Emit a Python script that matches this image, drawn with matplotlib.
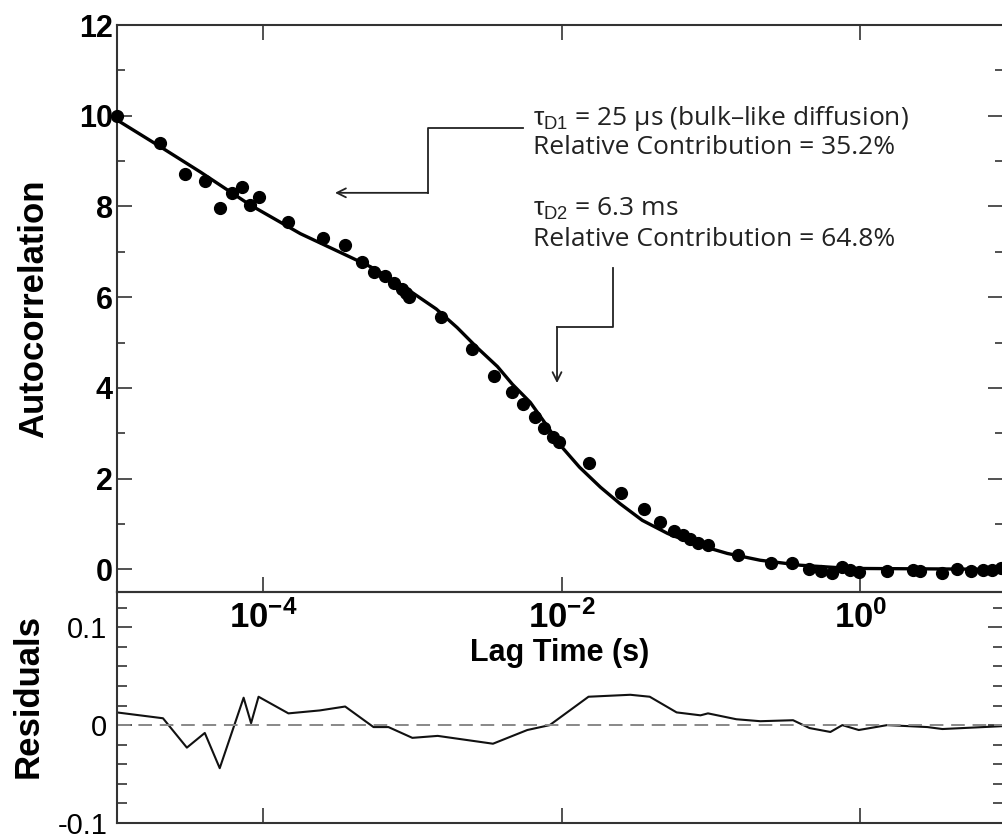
import numpy as np
import matplotlib
matplotlib.use('Agg')
import matplotlib.pyplot as plt
from matplotlib.ticker import MultipleLocator, NullLocator

plt.rcParams['font.family'] = ['Liberation Sans', 'DejaVu Sans']
plt.rcParams['mathtext.fontset'] = 'custom'
plt.rcParams['mathtext.rm'] = 'Liberation Sans'
plt.rcParams['mathtext.bf'] = 'Liberation Sans:bold'
plt.rcParams['mathtext.it'] = 'Liberation Sans:italic'

# measured autocorrelation (log10 of lag time in s, G)
pts_logt = [-4.98, -4.69, -4.52, -4.39, -4.29, -4.21, -4.14, -4.09, -4.03, -3.83,
            -3.60, -3.45, -3.34, -3.26, -3.18, -3.12, -3.07, -3.04, -3.02, -2.81,
            -2.60, -2.45, -2.33, -2.26, -2.18, -2.12, -2.06, -2.02, -1.82, -1.60,
            -1.45, -1.34, -1.25, -1.19, -1.14, -1.09, -1.02, -0.82, -0.60, -0.46,
            -0.34, -0.26, -0.19, -0.12, -0.07, -0.01, 0.18, 0.35, 0.40, 0.55,
            0.65, 0.74, 0.82, 0.88, 0.94]
pts_g = [10.0, 9.40, 8.72, 8.57, 7.97, 8.30, 8.43, 8.04, 8.21, 7.66,
         7.31, 7.15, 6.78, 6.56, 6.47, 6.31, 6.18, 6.09, 6.00, 5.56,
         4.85, 4.26, 3.91, 3.64, 3.36, 3.11, 2.91, 2.80, 2.34, 1.68,
         1.32, 1.04, 0.84, 0.75, 0.66, 0.57, 0.53, 0.31, 0.15, 0.13,
         0.00, -0.04, -0.08, 0.05, -0.02, -0.06, -0.04, -0.02, -0.04, -0.08,
         0.00, -0.04, -0.02, -0.02, 0.02]

# two-component fit
fit_logt = [-4.98, -4.69, -4.42, -4.09, -3.75, -3.42, -3.28, -3.15, -3.00, -2.84,
            -2.70, -2.57, -2.43, -2.33, -2.21, -2.11, -2.01, -1.88, -1.74, -1.61,
            -1.46, -1.29, -1.12, -0.89, -0.67, -0.40, -0.07, 0.96]
fit_g = [9.91, 9.32, 8.76, 8.04, 7.40, 6.89, 6.67, 6.42, 6.10, 5.74,
         5.33, 4.90, 4.47, 4.08, 3.68, 3.22, 2.74, 2.25, 1.81, 1.45,
         1.08, 0.79, 0.57, 0.35, 0.20, 0.09, 0.02, 0.0]

# residuals
res_logt = [-4.98, -4.67, -4.51, -4.39, -4.29, -4.13, -4.08, -4.03, -3.83, -3.62,
            -3.45, -3.26, -3.16, -3.00, -2.83, -2.46, -2.23, -2.08, -1.82, -1.54,
            -1.41, -1.23, -1.07, -1.02, -0.83, -0.67, -0.45, -0.34, -0.20, -0.12,
            -0.01, 0.18, 0.45, 0.55, 0.96]
res_val = [0.013, 0.007, -0.023, -0.008, -0.044, 0.028, 0.002, 0.029, 0.012, 0.015,
           0.019, -0.002, -0.002, -0.013, -0.011, -0.019, -0.005, 0.0, 0.029, 0.031,
           0.029, 0.013, 0.010, 0.012, 0.006, 0.004, 0.005, -0.003, -0.007, 0.0,
           -0.005, 0.0, -0.002, -0.004, -0.001]

xtick_vals = [1e-4, 1e-2, 1e0]
xtick_labels = [r'$\mathbf{10^{-4}}$', r'$\mathbf{10^{-2}}$', r'$\mathbf{10^{0}}$']

W, H = 1002, 838
fig = plt.figure(figsize=(W / 100, H / 100), dpi=100)
L, R = 117, 1003
ax_res = fig.add_axes([L / W, 1 - 823 / H, (R - L) / W, 231 / H])
ax = fig.add_axes([L / W, 1 - 592 / H, (R - L) / W, 567 / H])

xlim = (10 ** -4.978, 10 ** 0.956)
spine_c = '#333333'

# residual panel
ax_res.plot(10 ** np.array(res_logt), res_val, color='#111111', lw=1.5)
ax_res.axhline(0, color='#888888', lw=1.4, ls=(0, (7, 4)))
ax_res.set_xscale('log')
ax_res.set_xlim(*xlim)
ax_res.set_ylim(-0.1, 0.136)
ax_res.set_xticks(xtick_vals)
ax_res.set_xticklabels([])
ax_res.xaxis.set_minor_locator(NullLocator())
ax_res.set_yticks([-0.1, 0, 0.1])
ax_res.set_yticklabels(['-0.1', '0', '0.1'], fontsize=21)
ax_res.yaxis.set_minor_locator(MultipleLocator(0.02))
ax_res.tick_params(axis='x', which='major', direction='in', length=11, width=1.2,
                   top=False, bottom=True, color=spine_c)
ax_res.tick_params(axis='y', which='both', direction='in', left=True, right=True,
                   color=spine_c, width=1.2, pad=7)
ax_res.tick_params(axis='y', which='major', length=11)
ax_res.tick_params(axis='y', which='minor', length=7)
ax_res.set_ylabel('Residuals', fontsize=25, fontweight='bold')
ax_res.yaxis.set_label_coords(-0.082, 0.55)

# autocorrelation panel
ax.plot(10 ** np.array(fit_logt), fit_g, color='black', lw=2.4, zorder=2)
ax.plot(10 ** np.array(pts_logt), pts_g, 'o', color='black', ms=8.5, zorder=3,
        clip_on=False)
ax.set_xscale('log')
ax.set_xlim(*xlim)
ax.set_ylim(-0.5, 12)
ax.set_xticks(xtick_vals)
ax.set_xticklabels(xtick_labels, fontsize=25)
ax.xaxis.set_minor_locator(NullLocator())
ax.set_yticks(range(0, 13, 2))
ax.set_yticklabels([str(v) for v in range(0, 13, 2)], fontsize=22, fontweight='bold')
ax.yaxis.set_minor_locator(MultipleLocator(1))
ax.tick_params(axis='x', which='major', direction='in', length=11, width=1.2,
               top=True, bottom=True, color=spine_c, pad=6)
ax.tick_params(axis='y', which='both', direction='in', left=True, right=True,
               color=spine_c, width=1.2, pad=3)
ax.tick_params(axis='y', which='major', length=11)
ax.tick_params(axis='y', which='minor', length=6)
ax.set_xlabel('Lag Time (s)', fontsize=22, fontweight='bold', labelpad=2)
ax.set_ylabel('Autocorrelation', fontsize=25, fontweight='bold')
ax.yaxis.set_label_coords(-0.076, 0.5)
ax.patch.set_alpha(0)

for a in (ax, ax_res):
    for s in a.spines.values():
        s.set_color(spine_c)
        s.set_linewidth(1.5)

# annotations
afont = dict(fontsize=19, family=['Open Sans', 'DejaVu Sans'], color='#222222')
tx = 10 ** -2.192
ax.text(tx, 9.80, r'$\mathrm{\tau_{D1}}$ = 25 μs (bulk–like diffusion)', **afont)
ax.text(tx, 9.16, 'Relative Contribution = 35.2%', **afont)
ax.text(tx, 7.79, r'$\mathrm{\tau_{D2}}$ = 6.3 ms', **afont)
ax.text(tx, 7.13, 'Relative Contribution = 64.8%', **afont)

lc = '#222222'
ax.plot([10 ** -2.259, 10 ** -2.895, 10 ** -2.895], [9.735, 9.735, 8.30], color=lc, lw=1.3)
ax.annotate('', xy=(10 ** -3.518, 8.30), xytext=(10 ** -2.895, 8.30),
            arrowprops=dict(arrowstyle='->', color=lc, lw=1.3, shrinkA=0, shrinkB=0,
                            mutation_scale=16))
ax.plot([10 ** -1.656, 10 ** -1.656, 10 ** -2.031], [6.645, 5.342, 5.342], color=lc, lw=1.3)
ax.annotate('', xy=(10 ** -2.031, 4.106), xytext=(10 ** -2.031, 5.342),
            arrowprops=dict(arrowstyle='->', color=lc, lw=1.3, shrinkA=0, shrinkB=0,
                            mutation_scale=16))

fig.savefig('out.png', dpi=100)
